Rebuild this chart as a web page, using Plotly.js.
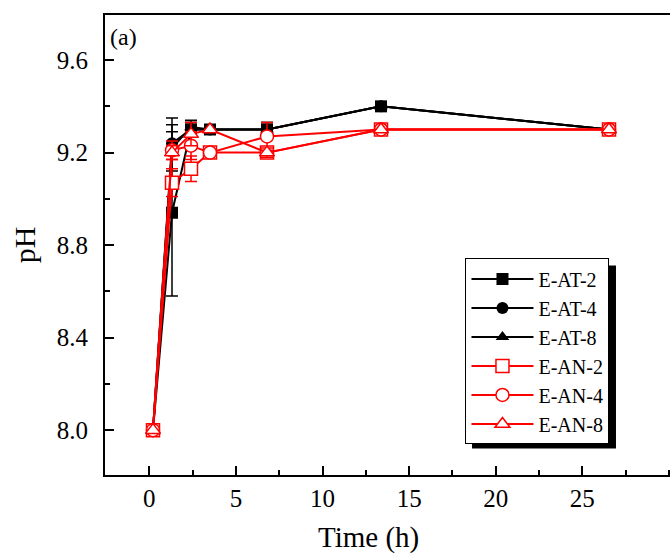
<!DOCTYPE html>
<html>
<head>
<meta charset="utf-8">
<script src="https://cdn.plot.ly/plotly-3.0.1.min.js"></script>
<style>
html, body { margin: 0; padding: 0; overflow: hidden; background: #fff; }
#chart { width: 670px; height: 554px; }
</style>
</head>
<body>
<div id="chart"></div>
<script>
// ---- data ----
const time = [0, 1, 2, 3, 6, 12, 24];

const eat2 = [8.00, 8.94, 9.30, 9.30, 9.30, 9.40, 9.30];
const eat4 = [8.00, 9.24, 9.30, 9.30, 9.30, 9.40, 9.30];
const eat8 = [8.00, 9.22, 9.31, 9.30, 9.30, 9.40, 9.30];
const ean2 = [8.00, 9.07, 9.13, 9.20, 9.20, 9.30, 9.30];
const ean4 = [8.00, 9.21, 9.23, 9.20, 9.27, 9.30, 9.30];
const ean8 = [8.00, 9.20, 9.28, 9.30, 9.20, 9.30, 9.30];

const eat2ErrPlus  = [0, 0.41, 0.03, 0, 0.03, 0, 0];
const eat2ErrMinus = [0, 0.36, 0.03, 0, 0.03, 0, 0];
const eat4Err = [0, 0.05, 0.03, 0, 0.03, 0, 0];
const eat8Err = [0, 0.10, 0.03, 0, 0.02, 0, 0];
const ean2Err = [0, 0.06, 0.055, 0, 0.02, 0, 0];
const ean4Err = [0, 0.04, 0.06, 0, 0.06, 0, 0];
const ean8Err = [0, 0.03, 0.05, 0, 0.02, 0, 0];

const seriesNames = ['E-AT-2', 'E-AT-4', 'E-AT-8', 'E-AN-2', 'E-AN-4', 'E-AN-8'];
const xTickVals = [0, 5, 10, 15, 20, 25];
const yTickVals = [8.0, 8.4, 8.8, 9.2, 9.6];
const xTitle = 'Time (h)';
const yTitle = 'pH';
const panelLabel = '(a)';

// ---- styling ----
const FONT = 'Liberation Serif, Times New Roman, serif';
const BLACK = '#000000';
const RED = '#ff0000';

function trace(name, y, errPlus, errMinus, color, symbol, open) {
  return {
    type: 'scatter', mode: 'lines+markers', name: name,
    x: time, y: y, xaxis: 'x2', yaxis: 'y',
    line: { color: color, width: 2 },
    marker: {
      symbol: symbol, size: open ? 13 : 12,
      color: open ? '#ffffff' : color,
      line: { color: color, width: open ? 1.5 : 0 }
    },
    error_y: {
      type: 'data', symmetric: false, array: errPlus, arrayminus: errMinus,
      color: color, thickness: 1.5, width: 6, visible: true
    }
  };
}

const data = [
  // empty carrier so the labelled time axis is drawn
  { type: 'scatter', mode: 'markers', x: [], y: [], xaxis: 'x', yaxis: 'y', showlegend: false, hoverinfo: 'skip' },
  trace(seriesNames[0], eat2, eat2ErrPlus, eat2ErrMinus, BLACK, 'square', false),
  trace(seriesNames[1], eat4, eat4Err, eat4Err, BLACK, 'circle', false),
  trace(seriesNames[2], eat8, eat8Err, eat8Err, BLACK, 'triangle-up', false),
  trace(seriesNames[3], ean2, ean2Err, ean2Err, RED, 'square', true),
  trace(seriesNames[4], ean4, ean4Err, ean4Err, RED, 'circle', true),
  trace(seriesNames[5], ean8, ean8Err, ean8Err, RED, 'triangle-up', true)
];

const layout = {
  width: 670, height: 554,
  margin: { l: 105, r: 0, t: 15, b: 79 },
  paper_bgcolor: '#ffffff', plot_bgcolor: '#ffffff',
  font: { family: FONT, color: '#000000', size: 22 },
  showlegend: true,
  xaxis: {
    range: [-2.558, 30.06],
    tickvals: xTickVals, ticktext: xTickVals.map(String),
    ticks: 'inside', ticklen: 9, tickwidth: 2, tickcolor: '#000',
    minor: { dtick: 2.5, tick0: 0, ticks: 'inside', ticklen: 5, tickwidth: 2, tickcolor: '#000' },
    showline: true, linecolor: '#000', linewidth: 2, mirror: true,
    showgrid: false, zeroline: false,
    ticklabelstandoff: 0,
    tickfont: { family: FONT, size: 25 }
  },
  xaxis2: {
    overlaying: 'x', anchor: 'y', range: [-2.526, 27.21],
    visible: false, showgrid: false, zeroline: false
  },
  yaxis: {
    range: [7.806, 9.795],
    tickvals: yTickVals, ticktext: yTickVals.map(v => v.toFixed(1)),
    ticks: 'inside', ticklen: 9, tickwidth: 2, tickcolor: '#000',
    minor: { dtick: 0.2, tick0: 8.0, ticks: 'inside', ticklen: 5, tickwidth: 2, tickcolor: '#000' },
    showline: true, linecolor: '#000', linewidth: 2, mirror: false,
    showgrid: false, zeroline: false,
    ticklabelstandoff: 10,
    tickfont: { family: FONT, size: 25 },
    title: { text: yTitle, font: { family: FONT, size: 30 }, standoff: 12 }
  },
  legend: {
    x: 0.638, y: 0.4707, xanchor: 'left', yanchor: 'top',
    bgcolor: '#ffffff', bordercolor: '#000', borderwidth: 1,
    font: { family: FONT, size: 20 },
    itemwidth: 62,
    tracegroupgap: 0
  },
  shapes: [{
    type: 'rect', xref: 'paper', yref: 'paper', layer: 'above',
    x0: 0.6496, x1: 0.9044, y0: 0.0576, y1: 0.4554,
    fillcolor: '#000', line: { width: 0 }
  }],
  annotations: [{
    text: panelLabel, xref: 'paper', yref: 'paper', x: 0.006, y: 0.952,
    xanchor: 'left', yanchor: 'middle', showarrow: false,
    font: { family: FONT, size: 24 }
  }, {
    text: xTitle, xref: 'paper', yref: 'paper', x: 0.4655, y: -0.135,
    xanchor: 'center', yanchor: 'middle', showarrow: false,
    font: { family: FONT, size: 29 }
  }]
};

Plotly.newPlot('chart', data, layout, { displayModeBar: false, staticPlot: true });
</script>
</body>
</html>
